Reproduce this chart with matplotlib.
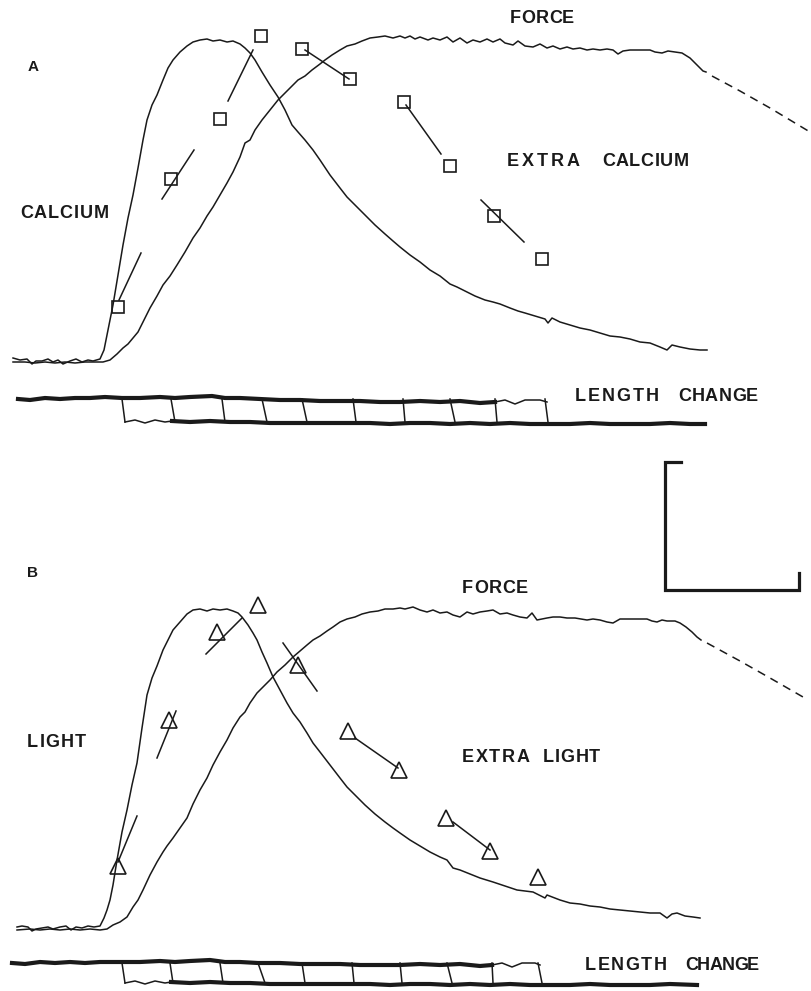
import matplotlib
matplotlib.use("Agg")
import matplotlib.pyplot as plt
from matplotlib.font_manager import FontProperties, findfont, get_font

# ---- panel A traces (x = time, y = trace level, both in picture units) ----
ca_a = [(13, 358), (20, 360), (27, 359), (32, 364), (36, 361), (42, 361), (48, 359), (53, 362),
        (58, 360), (63, 364), (70, 361), (76, 359), (82, 362), (88, 360), (93, 361), (100, 359),
        (104, 350), (108, 330), (113, 305), (118, 275), (123, 245), (128, 218), (133, 195),
        (138, 168), (143, 140), (147, 120), (152, 105), (157, 95), (163, 80), (168, 68), (173, 60),
        (180, 52), (187, 46), (193, 42), (200, 40), (207, 39), (213, 41), (220, 40), (227, 42),
        (233, 41), (240, 44), (245, 48), (250, 53), (255, 60), (262, 72), (270, 85), (278, 97),
        (285, 110), (292, 125), (298, 132), (305, 140), (313, 150), (320, 160), (330, 175),
        (340, 188), (347, 197), (355, 205), (365, 215), (375, 225), (385, 234), (393, 241),
        (400, 247), (410, 255), (420, 262), (430, 270), (440, 276), (450, 284), (457, 287),
        (465, 291), (475, 296), (485, 300), (493, 302), (500, 304), (510, 308), (518, 311),
        (525, 313), (535, 316), (545, 319), (548, 323), (552, 318), (560, 322), (570, 325),
        (580, 328), (590, 330), (600, 333), (610, 336), (620, 337), (630, 339), (640, 342),
        (650, 343), (660, 347), (667, 350), (672, 345), (680, 347), (690, 349), (700, 350),
        (707, 350)]

force_a = [(13, 362), (25, 362), (35, 363), (45, 362), (55, 363), (65, 362), (75, 363), (85, 362),
           (95, 362), (103, 362), (110, 360), (117, 354), (123, 348), (128, 344), (133, 338),
           (138, 332), (143, 322), (150, 308), (157, 296), (163, 285), (170, 276), (177, 265),
           (185, 252), (193, 238), (200, 228), (207, 216), (213, 207), (220, 195), (227, 183),
           (233, 172), (240, 157), (245, 143), (250, 140), (255, 130), (262, 120), (270, 110),
           (278, 100), (285, 93), (292, 86), (298, 80), (305, 76), (312, 70), (320, 64), (325, 60),
           (332, 55), (340, 50), (347, 46), (355, 44), (362, 41), (370, 38), (378, 37), (385, 36),
           (393, 38), (400, 36), (405, 38), (410, 36), (415, 39), (420, 37), (428, 40), (433, 38),
           (440, 40), (447, 37), (453, 42), (460, 38), (467, 43), (473, 40), (480, 42), (487, 39),
           (493, 42), (500, 39), (505, 43), (513, 45), (518, 41), (525, 46), (533, 47), (540, 44),
           (547, 48), (553, 46), (560, 49), (567, 47), (573, 49), (580, 48), (587, 50), (593, 49),
           (600, 50), (607, 49), (613, 50), (618, 54), (623, 51), (630, 50), (640, 50), (650, 50),
           (655, 52), (662, 53), (668, 51), (675, 52), (682, 53), (690, 58), (697, 65), (703, 71),
           (706, 72)]
force_a_tail = [(712, 76), (740, 91), (770, 108), (810, 132)]

# extra calcium points (squares) and the short slope lines drawn with them
sq_x = [118, 171, 220, 261, 302, 350, 404, 450, 494, 542]
sq_y = [307, 179, 119, 36, 49, 79, 102, 166, 216, 259]
sq_lines = [((119, 300), (141, 253)), ((162, 199), (194, 150)), ((228, 101), (253, 50)),
            ((305, 50), (349, 79)), ((406, 105), (441, 154)), ((481, 200), (524, 242))]

# length change A: two baselines plus the release steps
len_a_top = [(18, 399), (30, 400), (45, 398), (60, 399), (75, 398), (90, 398), (105, 397),
             (122, 398), (140, 398), (160, 397), (175, 398), (190, 397), (212, 396), (225, 398),
             (240, 398), (260, 399), (280, 400), (300, 400), (320, 401), (340, 401), (360, 401),
             (380, 402), (400, 402), (420, 401), (440, 402), (460, 401), (480, 403), (495, 402)]
len_a_top_thin = [(495, 402), (505, 400), (515, 404), (525, 400), (540, 400), (547, 402)]
len_a_low_thin = [(125, 422), (135, 420), (145, 423), (155, 420), (165, 422), (172, 421)]
len_a_low = [(172, 421), (190, 422), (210, 421), (230, 422), (250, 422), (270, 423), (290, 423),
             (310, 423), (330, 423), (350, 423), (370, 423), (390, 424), (410, 423), (430, 423),
             (450, 424), (470, 423), (490, 424), (510, 423), (530, 424), (550, 424), (570, 424),
             (590, 423), (610, 424), (630, 424), (650, 424), (670, 423), (690, 424), (705, 424)]
steps_a = [(122, 125), (171, 175), (222, 225), (262, 267), (302, 307), (353, 356), (403, 405),
           (450, 455), (495, 497), (545, 548)]

# ---- panel B traces ----
light_b = [(17, 927), (22, 926), (28, 927), (32, 931), (36, 929), (42, 928), (48, 927), (53, 929),
           (60, 927), (66, 926), (71, 930), (76, 927), (82, 928), (88, 926), (94, 927), (100, 926),
           (104, 918), (107, 910), (110, 900), (113, 885), (117, 860), (122, 832), (127, 810),
           (132, 785), (137, 763), (142, 728), (147, 695), (152, 678), (157, 666), (163, 650),
           (168, 640), (173, 630), (180, 622), (187, 614), (193, 610), (200, 609), (207, 611),
           (213, 609), (220, 610), (227, 609), (233, 611), (238, 613), (242, 617), (248, 625),
           (253, 633), (257, 640), (262, 652), (267, 663), (273, 677), (280, 690), (287, 703),
           (293, 713), (300, 722), (307, 733), (313, 743), (320, 752), (330, 765), (340, 778),
           (347, 787), (355, 795), (365, 805), (375, 814), (385, 822), (393, 828), (400, 833),
           (410, 840), (420, 846), (430, 852), (440, 857), (447, 860), (453, 868), (460, 870),
           (470, 874), (480, 878), (493, 882), (505, 886), (517, 890), (533, 892), (545, 898),
           (547, 895), (560, 900), (570, 903), (580, 904), (590, 906), (600, 907), (610, 909),
           (620, 910), (630, 911), (640, 912), (650, 913), (660, 913), (667, 918), (672, 914),
           (677, 913), (685, 916), (693, 917), (700, 918)]

force_b = [(17, 930), (30, 929), (40, 930), (50, 929), (60, 930), (70, 929), (80, 930), (90, 929),
           (100, 930), (107, 929), (113, 925), (120, 922), (127, 917), (133, 907), (138, 900),
           (143, 890), (150, 875), (157, 862), (163, 852), (167, 846), (173, 838), (180, 828),
           (187, 818), (193, 804), (200, 790), (207, 778), (213, 765), (220, 752), (227, 740),
           (233, 728), (240, 717), (245, 712), (250, 703), (257, 693), (263, 687), (270, 680),
           (277, 672), (285, 665), (293, 657), (300, 651), (307, 645), (313, 640), (320, 636),
           (327, 631), (333, 627), (340, 622), (347, 619), (355, 617), (362, 614), (370, 612),
           (378, 611), (385, 609), (393, 609), (400, 608), (405, 609), (413, 607), (420, 610),
           (427, 612), (433, 610), (440, 613), (447, 612), (453, 615), (460, 617), (467, 612),
           (473, 614), (480, 612), (487, 611), (493, 610), (500, 614), (507, 613), (513, 615),
           (520, 617), (527, 618), (532, 613), (537, 620), (547, 618), (553, 617), (560, 617),
           (567, 618), (575, 618), (587, 620), (593, 619), (600, 620), (607, 622), (613, 623),
           (620, 619), (630, 619), (640, 619), (647, 619), (652, 621), (657, 622), (662, 620),
           (667, 621), (675, 621), (680, 623), (686, 627), (692, 632), (697, 637), (701, 640)]
force_b_tail = [(707, 643), (740, 661), (770, 678), (803, 697)]

# extra light points (triangles) and their slope lines
tri_x = [118, 169, 217, 258, 298, 348, 399, 446, 490, 538]
tri_y = [866, 720, 632, 605, 665, 731, 770, 818, 851, 877]
tri_lines = [((118, 862), (137, 816)), ((157, 758), (176, 711)), ((206, 654), (242, 618)),
             ((283, 643), (317, 691)), ((355, 738), (398, 768)), ((453, 822), (490, 850))]

len_b_top = [(12, 963), (25, 964), (40, 962), (55, 963), (70, 962), (85, 963), (100, 962),
             (122, 962), (140, 962), (160, 961), (175, 962), (190, 961), (210, 960), (225, 962),
             (240, 962), (258, 963), (280, 963), (300, 964), (320, 964), (340, 964), (360, 965),
             (380, 965), (400, 965), (420, 964), (440, 965), (460, 964), (480, 966), (492, 965)]
len_b_top_thin = [(492, 965), (502, 963), (512, 967), (522, 963), (535, 963), (540, 965)]
len_b_low_thin = [(125, 983), (135, 981), (145, 984), (155, 981), (165, 983), (171, 982)]
len_b_low = [(171, 982), (190, 983), (210, 982), (230, 983), (250, 983), (270, 984), (290, 984),
             (310, 984), (330, 984), (350, 984), (370, 984), (390, 985), (410, 984), (430, 984),
             (450, 985), (470, 984), (490, 985), (510, 984), (530, 985), (550, 985), (570, 985),
             (590, 984), (610, 985), (630, 985), (650, 985), (670, 984), (697, 985)]
steps_b = [(122, 125), (170, 173), (220, 223), (258, 265), (302, 305), (352, 354), (400, 402),
           (447, 452), (492, 493), (538, 542)]

INK = "#1a1a1a"
DPI = 100
fig = plt.figure(figsize=(8.11, 9.91), dpi=DPI)
ax = fig.add_axes([0, 0, 1, 1])
ax.set_xlim(0, 811)
ax.set_ylim(991, 0)
ax.axis("off")


def trace(pts, lw=1.1, **kw):
    xs, ys = zip(*pts)
    ax.plot(xs, ys, color=INK, lw=lw, solid_joinstyle="round", **kw)


def segments(lines, lw=1.1):
    for (x0, y0), (x1, y1) in lines:
        ax.plot([x0, x1], [y0, y1], color=INK, lw=lw)


def steps(pairs, y_top, y_low):
    for xt, xb in pairs:
        ax.plot([xt, xb], [y_top, y_low], color=INK, lw=1.1)


def label(x0, x1, y, word, size=13):
    # spread the letters so the word spans x0..x1 like the lettering in the figure
    prop = FontProperties(family="Liberation Sans", size=size, weight="bold")
    font = get_font(findfont(prop))
    font.set_size(size, DPI)
    adv = [font.load_char(ord(ch)).linearHoriAdvance / 65536 for ch in word]
    natural = sum(adv[:-1]) + adv[-1] * 0.9
    extra = (x1 - x0 - natural) / max(len(word) - 1, 1)
    x = x0
    for ch, a in zip(word, adv):
        ax.text(x, y, ch, fontproperties=prop, color=INK, ha="left", va="baseline")
        x += a + extra


# panel A
trace(ca_a)
trace(force_a)
trace(force_a_tail, dashes=(5.5, 4))
segments(sq_lines)
ax.plot(sq_x, sq_y, ls="none", marker="s", ms=8, mfc="none", mec=INK, mew=1.2)
trace(len_a_top, lw=3.0)
trace(len_a_top_thin, lw=1.1)
trace(len_a_low_thin, lw=1.1)
trace(len_a_low, lw=3.0)
steps(steps_a, 399, 422)

# panel B
trace(light_b)
trace(force_b)
trace(force_b_tail, dashes=(5.5, 4))
segments(tri_lines)
ax.plot(tri_x, tri_y, ls="none", marker="^", ms=11, mfc="none", mec=INK, mew=1.2)
trace(len_b_top, lw=3.0)
trace(len_b_top_thin, lw=1.1)
trace(len_b_low_thin, lw=1.1)
trace(len_b_low, lw=3.0)
steps(steps_b, 963, 983)

# calibration bar
ax.plot([681, 665, 665, 799, 799], [462, 462, 590, 590, 573], color=INK, lw=2.3,
        solid_joinstyle="miter")

# lettering
label(28, 39, 71, "A", size=11)
label(20, 107, 218, "CALCIUM")
label(510, 573, 23, "FORCE")
label(507, 578, 166, "EXTRA")
label(602, 687, 166, "CALCIUM")
label(575, 657, 401, "LENGTH")
label(678, 757, 401, "CHANGE")
label(27, 38, 577, "B", size=11)
label(27, 85, 747, "LIGHT")
label(462, 527, 593, "FORCE")
label(462, 528, 762, "EXTRA")
label(543, 599, 762, "LIGHT")
label(585, 665, 970, "LENGTH")
label(685, 758, 970, "CHANGE")

fig.savefig("out.png", dpi=DPI)
